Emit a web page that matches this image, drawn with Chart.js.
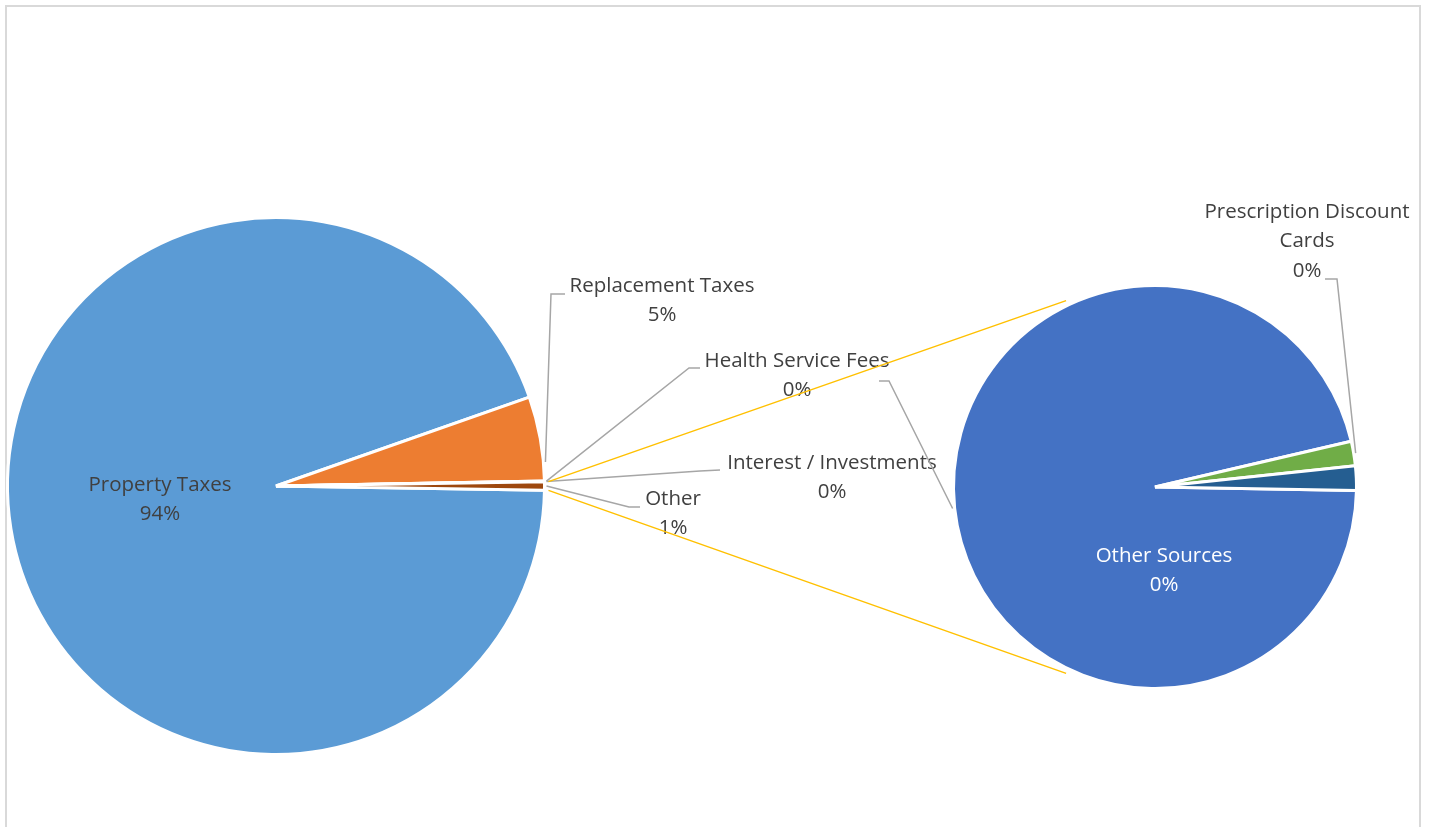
<!DOCTYPE html>
<html>
<head>
<meta charset="utf-8">
<title>Revenue Sources</title>
<script src="https://cdn.jsdelivr.net/npm/chart.js@4.4.1/dist/chart.umd.min.js"></script>
<style>
  html, body { margin: 0; padding: 0; background: #fff; overflow: hidden; }
  #wrap { position: relative; width: 1429px; height: 827px; }
  #frame { position: absolute; left: 5px; top: 5px; width: 1412px; height: 860px; border: 2px solid #d9d9d9; }
  canvas { position: absolute; left: 0; top: 0; }
</style>
</head>
<body>
<div id="wrap">
  <div id="frame"></div>
  <canvas id="mainPie" width="1429" height="827"></canvas>
  <canvas id="detailPie" width="1429" height="827"></canvas>
</div>
<script>
// Revenue by source, percent of total
const mainCategories = ['Property Taxes', 'Replacement Taxes', 'Health Service Fees', 'Interest / Investments', 'Other'];
const mainValues = [94.38, 5.07, 0.02, 0.02, 0.51];
const mainColors = ['#5B9BD5', '#ED7D31', '#A5A5A5', '#FFC000', '#9E480E'];

// Breakdown of the "Other" slice
const detailCategories = ['Other Sources', 'Prescription Discount Cards', ''];
const detailValues = [0.49, 0.01, 0.01];
const detailColors = ['#4472C4', '#70AD47', '#255E91'];

const grandTotal = mainValues.reduce((a, b) => a + b, 0);
const OTHER_INDEX = mainCategories.indexOf('Other');

const FONT = '20.5px "Open Sans", Lato, sans-serif';
const TEXT_DARK = '#404040';
const LINE_H = 29.5;

function arcPoint(arc, angle, extra) {
  const r = arc.outerRadius + extra;
  return { x: arc.x + r * Math.cos(angle), y: arc.y + r * Math.sin(angle) };
}

function wrapWords(ctx, text, maxWidth) {
  if (!text) return [];
  const words = text.split(' ');
  const lines = [];
  let cur = '';
  words.forEach(w => {
    const test = cur ? cur + ' ' + w : w;
    if (cur && ctx.measureText(test).width > maxWidth) { lines.push(cur); cur = w; }
    else cur = test;
  });
  if (cur) lines.push(cur);
  return lines;
}

// Draws the data labels with leader lines, plus the links between the two pies
const sliceLabels = {
  id: 'sliceLabels',
  afterDraw(chart, args, opts) {
    const ctx = chart.ctx;
    const meta = chart.getDatasetMeta(0);
    const values = chart.data.datasets[0].data;
    ctx.save();

    if (opts.linkFrom) {
      const src = opts.linkFrom.getDatasetMeta(0).data[OTHER_INDEX];
      const dst = meta.data[0];
      const a1 = arcPoint(src, src.startAngle, 4);
      const a2 = arcPoint(src, src.endAngle, 4);
      const ang = opts.linkAngle * Math.PI / 180;
      const b1 = arcPoint(dst, -ang, 5);
      const b2 = arcPoint(dst, ang, 5);
      ctx.strokeStyle = '#FFC000';
      ctx.lineWidth = 1.5;
      ctx.beginPath();
      ctx.moveTo(a1.x, a1.y); ctx.lineTo(b1.x, b1.y);
      ctx.moveTo(a2.x, a2.y); ctx.lineTo(b2.x, b2.y);
      ctx.stroke();
    }

    ctx.font = FONT;
    ctx.textAlign = 'center';
    ctx.textBaseline = 'middle';
    opts.items.forEach(item => {
      if (item.leader) {
        const arc = meta.data[item.leader.slice !== undefined ? item.leader.slice : item.index];
        const ang = arc.startAngle + (arc.endAngle - arc.startAngle) * item.leader.t;
        const p = arcPoint(arc, ang, 2);
        ctx.strokeStyle = '#A6A6A6';
        ctx.lineWidth = 1.5;
        ctx.beginPath();
        ctx.moveTo(p.x, p.y);
        item.leader.path.forEach(q => ctx.lineTo(q[0], q[1]));
        ctx.stroke();
      }
      if (item.hideText) return;
      const name = chart.data.labels[item.index];
      const pct = Math.round(values[item.index] / grandTotal * 100) + '%';
      const lines = wrapWords(ctx, name, item.maxWidth || Infinity).concat([pct]);
      ctx.fillStyle = item.color || TEXT_DARK;
      lines.forEach((ln, k) => ctx.fillText(ln, item.x, item.y + k * LINE_H));
    });
    ctx.restore();
  }
};

const otherShare = mainValues[OTHER_INDEX] / grandTotal;

const mainChart = new Chart(document.getElementById('mainPie'), {
  type: 'pie',
  data: {
    labels: mainCategories,
    datasets: [{ data: mainValues, backgroundColor: mainColors, borderColor: '#ffffff', borderWidth: 3 }]
  },
  options: {
    responsive: false,
    devicePixelRatio: 1,
    animation: false,
    events: [],
    rotation: 90 + otherShare * 180,
    layout: { padding: { left: 6, right: 883, top: 216, bottom: 71 } },
    plugins: {
      legend: { display: false },
      tooltip: { enabled: false },
      sliceLabels: {
        items: [
          { index: 0, x: 160, y: 485 },
          { index: 1, x: 662, y: 286, leader: { t: 0.78, path: [[551, 294], [565, 294]] } },
          { index: 2, x: 797, y: 361, leader: { t: 0.5, path: [[689, 368], [700, 368]] } },
          { index: 3, x: 832, y: 463, leader: { t: 0.5, path: [[700, 471], [720, 470]] } },
          { index: 4, x: 673, y: 499, leader: { t: 0.5, path: [[629, 507], [640, 507]] } }
        ]
      }
    }
  },
  plugins: [sliceLabels]
});

const detailChart = new Chart(document.getElementById('detailPie'), {
  type: 'pie',
  data: {
    labels: detailCategories,
    datasets: [{ data: detailValues, backgroundColor: detailColors, borderColor: '#ffffff', borderWidth: 3 }]
  },
  options: {
    responsive: false,
    devicePixelRatio: 1,
    animation: false,
    events: [],
    rotation: 91,
    layout: { padding: { left: 952, right: 71, top: 284, bottom: 137 } },
    plugins: {
      legend: { display: false },
      tooltip: { enabled: false },
      sliceLabels: {
        linkFrom: mainChart,
        linkAngle: 115.5,
        items: [
          { index: 0, x: 1164, y: 556, color: '#ffffff' },
          { index: 1, x: 1307, y: 212, maxWidth: 230, leader: { t: 0.5, path: [[1337, 279], [1325, 279]] } },
          { index: 2, hideText: true, leader: { slice: 0, t: 0.5, path: [[889, 381], [879, 381]] } }
        ]
      }
    }
  },
  plugins: [sliceLabels]
});
</script>
</body>
</html>
